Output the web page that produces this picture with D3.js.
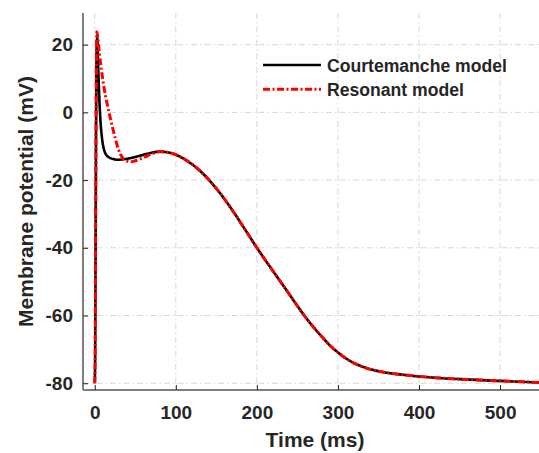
<!DOCTYPE html>
<html>
<head>
<meta charset="utf-8">
<script src="https://cdn.jsdelivr.net/npm/d3@7"></script>
<style>
  html, body { margin: 0; padding: 0; background: #fff; }
  svg { display: block; }
  text { font-family: "Liberation Sans", Arial, Helvetica, sans-serif; font-weight: bold; fill: #262626; }
</style>
</head>
<body>
<svg id="chart" width="539" height="453"></svg>
<script>
// ---- data ----
const xTicks = [0, 100, 200, 300, 400, 500];
const yTicks = [-80, -60, -40, -20, 0, 20];
const seriesNames = ["Courtemanche model", "Resonant model"];

const courtemancheTime = [0, 0.5, 1, 1.5, 2, 2.6, 3.2, 4, 5, 6, 7, 8, 10, 12, 15, 20, 25, 30, 40, 50, 60, 70, 80, 90, 100, 110, 120, 130, 140, 150, 160, 170, 180, 190, 200, 210, 220, 230, 240, 250, 260, 270, 280, 290, 300, 310, 320, 330, 340, 360, 380, 400, 450, 500, 550];
const courtemancheV    = [-80, -72, -45, -10, 12, 21.5, 22, 15, 8, 2, -2.5, -5.5, -9.5, -11.5, -12.8, -13.6, -13.9, -14, -13.7, -13.2, -12.5, -11.9, -11.6, -11.8, -12.5, -13.7, -15.3, -17.3, -19.7, -22.5, -25.6, -29, -32.6, -36.3, -40, -43.5, -46.9, -50.3, -53.7, -57.2, -60.5, -63.5, -66.2, -68.8, -70.9, -72.7, -74.1, -75.1, -75.9, -76.9, -77.5, -78, -78.8, -79.3, -79.8];

const resonantTime = [0, 0.5, 1, 1.5, 2, 2.6, 3.2, 4, 5, 6, 8, 10, 12, 15, 18, 20, 23, 26, 29, 32, 35, 40, 45, 50, 60, 70, 80, 90, 100, 110, 120, 130, 140, 150, 160, 170, 180, 190, 200, 210, 220, 230, 240, 250, 260, 270, 280, 290, 300, 310, 320, 330, 340, 360, 380, 400, 450, 500, 550];
const resonantV    = [-80, -72, -45, -8, 14, 23.8, 23, 21.3, 19.2, 17, 13, 9.5, 6.5, 2.8, -0.5, -2.5, -5.5, -8.3, -10.8, -12.5, -13.6, -14.4, -14.6, -14.3, -13.4, -12.3, -11.6, -11.8, -12.5, -13.7, -15.3, -17.3, -19.7, -22.5, -25.6, -29, -32.6, -36.3, -40, -43.5, -46.9, -50.3, -53.7, -57.2, -60.5, -63.5, -66.2, -68.8, -70.9, -72.7, -74.1, -75.1, -75.9, -76.9, -77.5, -78, -78.8, -79.3, -79.8];

// ---- layout ----
const svg = d3.select("#chart");
const mLeft = 83, mRight = 539, mTop = 13, mBottom = 390;

const x = d3.scaleLinear().domain([-14.5, 548]).range([mLeft, mRight]);
const y = d3.scaleLinear().domain([-82, 29.35]).range([mBottom, mTop]);

// grid
const grid = svg.append("g").attr("stroke", "#d6d6d6").attr("stroke-width", 1)
  .attr("stroke-dasharray", "6,3,1.5,3").attr("fill", "none");
xTicks.forEach(t => grid.append("line")
  .attr("x1", x(t)).attr("x2", x(t)).attr("y1", mTop).attr("y2", mBottom));
yTicks.forEach(t => grid.append("line")
  .attr("x1", mLeft).attr("x2", mRight).attr("y1", y(t)).attr("y2", y(t)));

// curves
const line = d3.line().curve(d3.curveMonotoneX);
const cPts = courtemancheTime.map((t, i) => [x(t), y(courtemancheV[i])]);
const rPts = resonantTime.map((t, i) => [x(t), y(resonantV[i])]);

const plot = svg.append("g");
plot.append("path").attr("d", line(cPts)).attr("fill", "none")
  .attr("stroke", "#000").attr("stroke-width", 2.6).attr("stroke-linejoin", "round");
plot.append("path").attr("d", line(rPts)).attr("fill", "none")
  .attr("stroke", "#ff0000").attr("stroke-width", 3)
  .attr("stroke-dasharray", "7,2.5,2,2.5");

// axes
const fmt = d => String(d);
const xAxis = d3.axisBottom(x).tickValues(xTicks).tickFormat(fmt).tickSizeInner(-5).tickSizeOuter(0).tickPadding(15.5);
const yAxis = d3.axisLeft(y).tickValues(yTicks).tickFormat(fmt).tickSizeInner(-5).tickSizeOuter(0).tickPadding(10);

const gx = svg.append("g").attr("transform", `translate(0,${mBottom})`).call(xAxis);
const gy = svg.append("g").attr("transform", `translate(${mLeft},0)`).call(yAxis);

[gx, gy].forEach(g => {
  g.select(".domain").attr("stroke", "#7f7f7f").attr("stroke-width", 2);
  g.selectAll(".tick line").attr("stroke", "#262626").attr("stroke-width", 1);
  g.selectAll(".tick text").attr("font-size", 19).attr("font-weight", "bold")
    .attr("font-family", '"Liberation Sans", Arial, sans-serif').attr("fill", "#262626");
});
gx.select(".domain").attr("d", `M${mLeft},0H${mRight}`);
gy.select(".domain").attr("d", `M0,${mTop}V${mBottom}`);

// axis titles
svg.append("text").attr("x", 315).attr("y", 447).attr("text-anchor", "middle")
  .attr("font-size", 21).text("Time (ms)");
svg.append("text").attr("transform", `translate(33,${(mTop + mBottom) / 2}) rotate(-90)`)
  .attr("text-anchor", "middle").attr("font-size", 21).text("Membrane potential (mV)");

// legend
const legend = svg.append("g");
const legStyles = [
  { stroke: "#000", width: 2.6, dash: null },
  { stroke: "#ff0000", width: 3, dash: "7,2.5,2,2.5" }
];
seriesNames.forEach((name, i) => {
  const ly = 65 + i * 24.3;
  const l = legend.append("line").attr("x1", 263).attr("x2", 321).attr("y1", ly).attr("y2", ly)
    .attr("stroke", legStyles[i].stroke).attr("stroke-width", legStyles[i].width);
  if (legStyles[i].dash) l.attr("stroke-dasharray", legStyles[i].dash);
  legend.append("text").attr("x", 327).attr("y", ly + 6.5).attr("font-size", 17.6).text(name);
});
</script>
</body>
</html>
